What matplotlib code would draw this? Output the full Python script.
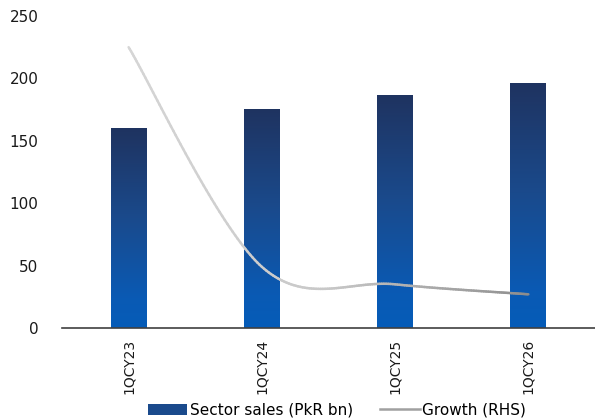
import numpy as np
import matplotlib
matplotlib.use('Agg')
import matplotlib.pyplot as plt
from matplotlib.collections import LineCollection
from matplotlib.colors import LinearSegmentedColormap
from matplotlib.lines import Line2D
from matplotlib.patches import Patch

# dane
categories = ['1QCY23', '1QCY24', '1QCY25', '1QCY26']
sales = [160, 175.5, 187, 196.5]        # Sector sales (PkR bn)
growth = [45.0, 9.8, 7.0, 5.4]          # Growth (RHS), %

plt.rcParams['font.family'] = 'DejaVu Sans'

fig = plt.figure(figsize=(5.95, 4.19), dpi=100)
ax = fig.add_axes([62 / 595, 1 - 328 / 419, 533 / 595, 312 / 419])

x = np.arange(len(categories))
bar_w = 0.27

# słupki z gradientem (ciemny u góry, niebieski na dole)
bar_cmap = LinearSegmentedColormap.from_list(
    'bar', [(0, '#055cb8'), (0.15, '#0a5ab4'), (0.55, '#1a4a8c'), (1, '#1f3360')])
grad = np.linspace(0, 1, 256).reshape(-1, 1)
bars = ax.bar(x, sales, width=bar_w, color='none', edgecolor='none', zorder=2)
for b in bars:
    x0, y0 = b.get_x(), b.get_y()
    im = ax.imshow(grad, cmap=bar_cmap, origin='lower', aspect='auto',
                   extent=[x0, x0 + b.get_width(), y0, y0 + b.get_height()], zorder=2)
    im.set_clip_path(b)

ax.set_xlim(-0.5, 3.5)
ax.set_ylim(0, 250)
ax.set_yticks([0, 50, 100, 150, 200, 250])
ax.set_xticks(x)
ax.set_xticklabels(categories, rotation=90, fontsize=10)
ax.tick_params(axis='y', length=0, labelsize=11, pad=17, labelcolor='#1a1a1a')
ax.tick_params(axis='x', length=0, pad=8, labelcolor='#1a1a1a')
for s in ['top', 'right', 'left']:
    ax.spines[s].set_visible(False)
ax.spines['bottom'].set_color('#404040')
ax.spines['bottom'].set_linewidth(1.2)

# linia wzrostu na prawej osi (ukrytej), wygładzona jak w Excelu
ax2 = ax.twinx()
ax2.set_ylim(0, 50)
ax2.set_axis_off()

gx = x.astype(float)
gy = np.array(growth, dtype=float)
px = np.concatenate([[gx[0]], gx, [gx[-1]]])
py = np.concatenate([[gy[0]], gy, [gy[-1]]])
t = np.linspace(0, 1, 60)[:, None]
pts = []
for i in range(len(gx) - 1):
    p0 = np.array([px[i + 1], py[i + 1]])
    p3 = np.array([px[i + 2], py[i + 2]])
    p1 = p0 + (np.array([px[i + 2], py[i + 2]]) - np.array([px[i], py[i]])) / 6
    p2 = p3 - (np.array([px[i + 3], py[i + 3]]) - np.array([px[i + 1], py[i + 1]])) / 6
    seg = ((1 - t) ** 3) * p0 + 3 * ((1 - t) ** 2) * t * p1 + 3 * (1 - t) * t ** 2 * p2 + t ** 3 * p3
    pts.append(seg if i == 0 else seg[1:])
pts = np.vstack(pts)
segs = np.stack([pts[:-1], pts[1:]], axis=1)
line_cmap = LinearSegmentedColormap.from_list('line', ['#d6d6d6', '#c8c8c8', '#8c8c8c'])
lc = LineCollection(segs, cmap=line_cmap, linewidths=1.8, capstyle='round', zorder=3)
lc.set_array(np.linspace(0, 1, len(segs)))
ax2.add_collection(lc)

# legenda
handles = [Patch(facecolor='#1a4a8c', edgecolor='none'),
           Line2D([0], [0], color='#a0a0a0', lw=1.8)]
fig.legend(handles, ['Sector sales (PkR bn)', 'Growth (RHS)'], loc='center',
           bbox_to_anchor=(0.566, 1 - 410 / 419), ncol=2, frameon=False,
           fontsize=11, handlelength=2.6, handleheight=0.7, columnspacing=1.8,
           handletextpad=0.15, borderaxespad=0)

fig.savefig('out.png', dpi=100)
